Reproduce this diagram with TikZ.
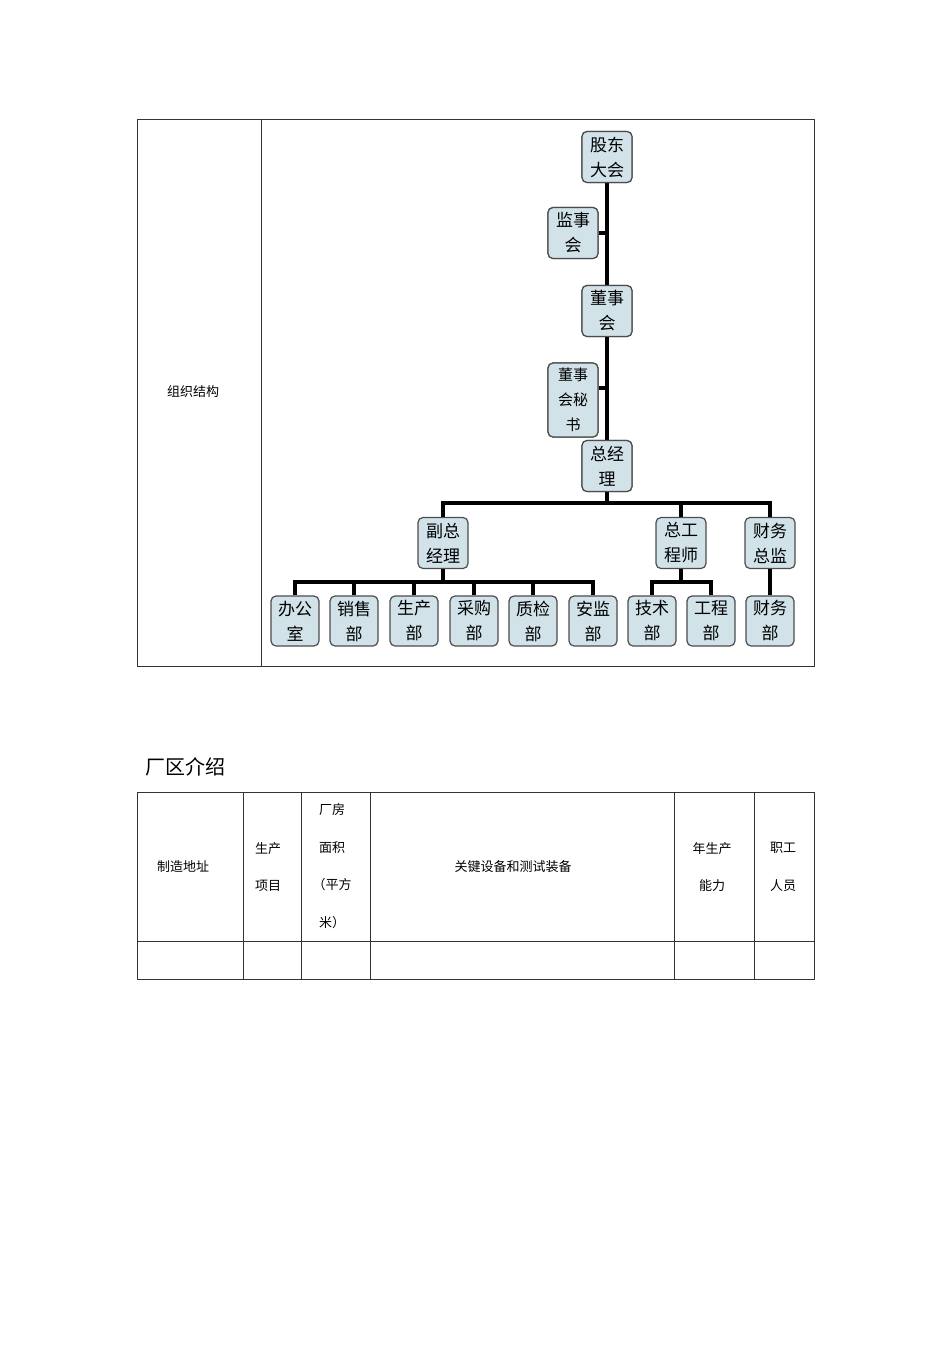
\documentclass[tikz,border=0pt]{standalone}
\usepackage{fontspec}
\setmainfont{Noto Sans CJK SC}
\begin{document}
\begin{tikzpicture}[x=1pt,y=-1pt,
  box/.style={draw=black!70,line width=1.2pt,fill=cyan!10!teal!20!white,rounded corners=5pt,minimum width=50pt,minimum height=51pt,align=center,font=\fontsize{17}{25}\selectfont,inner sep=1pt},
  sbox/.style={box,minimum width=48pt,minimum height=50pt},
  conn/.style={line width=3.5pt},
  cell/.style={font=\fontsize{13}{37.5}\selectfont,align=center},
  tline/.style={line width=0.8pt,draw=black!80}]
\useasboundingbox[fill=white] (0,0) rectangle (950,1345);
% table 1
\draw[tline] (137,119) rectangle (814,666);
\draw[tline] (261,119) -- (261,666);
\node[cell] (t1) at (193,392) {组织结构};
% connectors first
\coordinate (jA) at (607,233);
\coordinate (jB) at (607,388);
\coordinate (h) at (607,503);
\coordinate (hL) at (443,503);
\coordinate (hR) at (770,503);
\coordinate (hM) at (681,503);
\node[box] (gd) at (607,157) {股东\\大会};
\node[box] (js) at (573,233) {监事\\会};
\node[box] (ds) at (607,311) {董事\\会};
\node[box,minimum height=74pt,font=\fontsize{15}{25}\selectfont] (ms) at (573,400) {董事\\会秘\\书};
\node[box] (zj) at (607,466) {总经\\理};
\node[box] (fz) at (443,543) {副总\\经理};
\node[box] (zg) at (681,543) {总工\\程师};
\node[box] (cw) at (770,543) {财务\\总监};
\foreach \n/\x/\t in {b1/295/办公\\室,b2/354/销售\\部,b3/414/生产\\部,b4/474/采购\\部,b5/533/质检\\部,b6/593/安监\\部,b7/652/技术\\部,b8/711/工程\\部,b9/770/财务\\部}
  \node[sbox] (\n) at (\x,621) {\t};
\begin{scope}[on background layer/.try]
\end{scope}
\draw[conn] (gd.south) -- (ds.north);
\draw[conn] (ds.south) -- (zj.north);
\draw[conn] (js.east) -- (js.east -| gd.south);
\draw[conn] (ms.east |- jB) -- (jB);
\draw[conn] (zj.south) -- (h);
\draw[conn] (fz.north) -- (hL) -- (hR) -- (cw.north);
\draw[conn] (zg.north) -- (hM);
\draw[conn] (cw.south) -- (b9.north);
\draw[conn] (fz.south) -- (443,582);
\draw[conn] (b1.north) -- (295,582) -- (593,582) -- (b6.north);
\foreach \n/\x in {b2/354,b3/414,b4/474,b5/533} \draw[conn] (\n.north) -- (\x,582);
\draw[conn] (zg.south) -- (681,582);
\draw[conn] (b7.north) -- (652,582) -- (711,582) -- (b8.north);
% redraw boxes over connectors
\node[box] at (607,157) {股东\\大会};
\node[box] at (573,233) {监事\\会};
\node[box] at (607,311) {董事\\会};
\node[box,minimum height=74pt,font=\fontsize{15}{25}\selectfont] at (573,400) {董事\\会秘\\书};
\node[box] at (607,466) {总经\\理};
% heading
\node[font=\fontsize{20}{24}\selectfont] (hd) at (185,767) {厂区介绍};
% table 2
\draw[tline] (137,792) rectangle (814,979);
\draw[tline] (137,941) -- (814,941);
\foreach \x in {243,301,370,674,754} \draw[tline] (\x,792) -- (\x,979);
\node[cell] (c1) at (183,867) {制造地址};
\node[cell] (c2) at (268,867) {生产\\项目};
\node[cell] (c3) at (332,866) {厂房\\面积\\（平方\\米）};
\node[cell] (c4) at (513,867) {关键设备和测试装备};
\node[cell] (c5) at (712,867) {年生产\\能力};
\node[cell] (c6) at (783,867) {职工\\人员};
\end{tikzpicture}
\end{document}
